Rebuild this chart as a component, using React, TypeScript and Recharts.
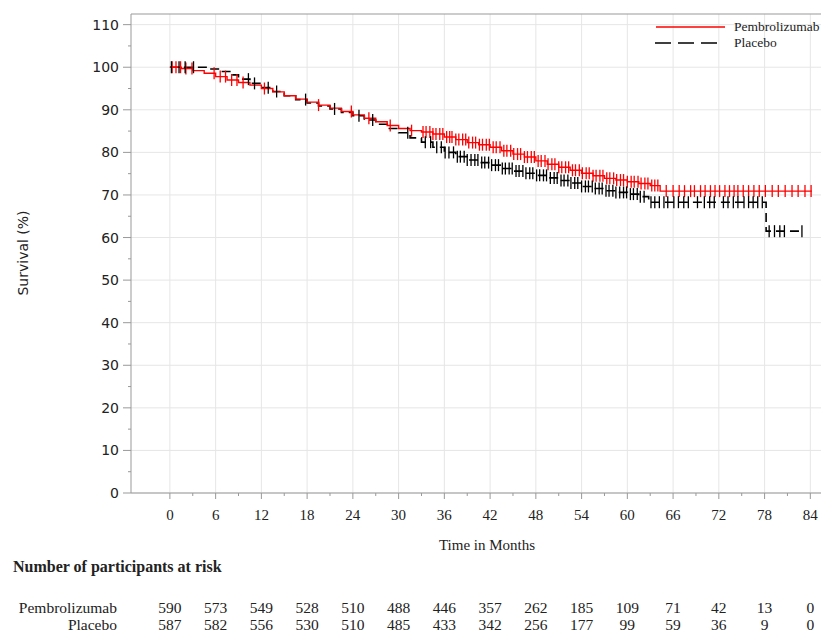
import {
  ComposedChart,
  Line,
  Scatter,
  XAxis,
  YAxis,
  CartesianGrid,
  ReferenceLine,
} from "recharts";

// axis ticks
const monthTicks = [0, 6, 12, 18, 24, 30, 36, 42, 48, 54, 60, 66, 72, 78, 84];
const minorMonthTicks = [3, 9, 15, 21, 27, 33, 39, 45, 51, 57, 63, 69, 75, 81];
const survTicks = [0, 10, 20, 30, 40, 50, 60, 70, 80, 90, 100, 110];
const minorSurvTicks = [5, 15, 25, 35, 45, 55, 65, 75, 85, 95, 105];

// number at risk, one value per month tick
const pembroRisk = [590, 573, 549, 528, 510, 488, 446, 357, 262, 185, 109, 71, 42, 13, 0];
const placeboRisk = [587, 582, 556, 530, 510, 485, 433, 342, 256, 177, 99, 59, 36, 9, 0];

// Kaplan-Meier steps
const pembroTime = [
  0, 1.5, 3, 4.5, 6, 7.5, 9, 10.5, 12, 13.5, 15, 16.5, 18, 19.5, 21, 22.5, 24,
  25.5, 27, 28.5, 30, 31.5, 33, 34.5, 36, 37.5, 39, 40.5, 42, 43.5, 45, 46.5,
  48, 49.5, 51, 52.5, 54, 55.5, 57, 58.5, 60, 61.5, 63, 64.3, 84.2,
];
const pembroSurv = [
  100, 99.7, 99.2, 98.6, 97.8, 97.0, 96.4, 95.8, 95.0, 94.2, 93.3, 92.5, 91.8,
  91.1, 90.4, 89.6, 88.8, 88.0, 87.2, 86.3, 85.6, 85.1, 84.8, 84.3, 83.6, 83.0,
  82.3, 81.8, 81.2, 80.4, 79.6, 78.9, 78.0, 77.2, 76.5, 75.8, 75.1, 74.5, 73.9,
  73.5, 73.1, 72.7, 72.2, 70.9, 70.9,
];
const placeboTime = [
  0, 5, 6.5, 8, 9, 10.5, 12, 13.5, 15, 16.5, 18, 19.5, 21, 22.5, 24, 25.5, 27,
  28.5, 30, 31.5, 33, 34.5, 36, 37.5, 39, 40.5, 42, 43.5, 45, 46.5, 48, 49.5,
  51, 52.5, 54, 55.5, 57, 58.5, 60, 61.5, 62.8, 78.2, 82.9,
];
const placeboSurv = [
  100, 99.6, 99.0, 98.2, 97.2, 96.2, 95.2, 94.3, 93.3, 92.4, 91.6, 90.9, 90.2,
  89.4, 88.6, 87.6, 86.6, 85.6, 84.6, 83.4, 82.4, 81.2, 80.0, 79.0, 78.2, 77.6,
  77.0, 76.2, 75.6, 75.1, 74.6, 74.0, 73.4, 72.8, 72.0, 71.5, 71.0, 70.6, 70.2,
  69.6, 68.3, 61.5, 61.5,
];

// censoring times (months)
const pembroCensor = [
  0.3, 0.8, 1.4, 2.1, 2.9, 5.8, 6.6, 7.3, 8.1, 8.8, 9.6, 12.4, 19.5, 23.8, 26.1,
  28.9, 31.7, 33.2, 33.6, 34.1, 34.5, 34.9, 35.4, 35.8, 36.3, 36.7, 37.0, 37.5,
  37.9, 38.4, 38.8, 39.2, 39.7, 40.1, 40.6, 41.0, 41.5, 41.9, 42.4, 42.8, 43.3,
  43.8, 44.2, 44.7, 45.1, 45.6, 46.0, 46.5, 46.9, 47.4, 47.8, 48.3, 48.7, 49.2,
  49.6, 50.1, 50.5, 51.0, 51.4, 51.9, 52.3, 52.8, 53.2, 53.7, 54.1, 54.6, 55.0,
  55.5, 55.9, 56.4, 56.8, 57.3, 57.7, 58.2, 58.6, 59.1, 59.5, 60.0, 60.5, 60.9,
  61.4, 61.8, 62.3, 62.7, 63.2, 63.6, 64.0, 65.1, 66.0, 66.8, 67.5, 68.3, 68.8,
  69.6, 70.2, 70.9, 71.5, 72.1, 72.8, 73.4, 74.0, 74.5, 75.2, 75.9, 76.6, 77.3,
  78.1, 79.0, 79.8, 80.7, 81.6, 82.4, 83.3, 84.1,
];
const placeboCensor = [
  0.2, 1.2, 2.0, 3.1, 10.3, 11.1, 12.9, 14.0, 17.8, 21.6, 24.8, 26.6, 31.2, 33.5,
  34.2, 35.0, 35.6, 36.1, 36.6, 37.2, 37.7, 38.1, 38.6, 39.0, 39.5, 40.0, 40.4,
  40.9, 41.3, 41.8, 42.2, 42.7, 43.1, 43.6, 44.0, 44.5, 44.9, 45.4, 45.8, 46.3,
  46.7, 47.2, 47.6, 48.1, 48.5, 49.0, 49.4, 49.9, 50.4, 50.8, 51.3, 51.7, 52.2,
  52.6, 53.1, 53.5, 54.0, 54.5, 54.9, 55.4, 55.8, 56.3, 56.7, 57.2, 57.6, 58.1,
  58.5, 59.0, 59.5, 59.9, 60.4, 60.8, 61.3, 61.7, 62.2, 63.1, 63.6, 64.2, 64.8,
  65.3, 66.1, 66.7, 67.4, 68.0, 69.2, 70.1, 70.8, 71.4, 72.6, 73.2, 73.9, 74.5,
  75.3, 75.9, 76.5, 77.1, 77.7, 78.6, 79.3, 80.0, 80.6, 82.9,
];

const SERIF = '"Liberation Serif", "Times New Roman", serif';
const SANS = '"DejaVu Sans", Verdana, sans-serif';

const toSteps = (times: number[], surv: number[]) =>
  times.map((t, i) => ({ t, s: surv[i] }));

// survival value of the step function at time t
const stepAt = (times: number[], surv: number[], t: number) => {
  let s = surv[0];
  for (let i = 0; i < times.length; i++) if (times[i] <= t) s = surv[i];
  return s;
};

const pembroData = toSteps(pembroTime, pembroSurv);
const placeboData = toSteps(placeboTime, placeboSurv);
const pembroCensorData = pembroCensor.map((t) => ({ t, s: stepAt(pembroTime, pembroSurv, t) }));
const placeboCensorData = placeboCensor.map((t) => ({ t, s: stepAt(placeboTime, placeboSurv, t) }));

const allMonthTicks = [...monthTicks, ...minorMonthTicks].sort((a, b) => a - b);
const allSurvTicks = [...survTicks, ...minorSurvTicks].sort((a, b) => a - b);

const XTick = (props: any) => {
  const { x, y, payload } = props;
  const i = monthTicks.indexOf(payload.value);
  const major = i >= 0;
  return (
    <g>
      <line x1={x} x2={x} y1={y} y2={y + (major ? 6 : 3)} stroke="#999" />
      {major && (
        <g fontFamily={SERIF} fill="#222" textAnchor="middle">
          <text x={x} y={y + 27} fontSize={15}>{payload.value}</text>
          <text x={x} y={y + 120} fontSize={15.5}>{pembroRisk[i]}</text>
          <text x={x} y={y + 137} fontSize={15.5}>{placeboRisk[i]}</text>
        </g>
      )}
    </g>
  );
};

const YTick = (props: any) => {
  const { x, y, payload } = props;
  const major = payload.value % 10 === 0;
  return (
    <g>
      <line x1={x - (major ? 8 : 3)} x2={x} y1={y} y2={y} stroke="#999" />
      {major && (
        <text x={x - 12} y={y} dy="0.36em" textAnchor="end" fontFamily={SANS} fontSize={14} fill="#222">
          {payload.value}
        </text>
      )}
    </g>
  );
};

// vertical tick for each censored participant
const censorMark = (color: string) => (props: any) => (
  <line x1={props.cx} x2={props.cx} y1={props.cy - 6} y2={props.cy + 6} stroke={color} strokeWidth={1.3} />
);

const abs = (left: number, top: number, extra: any = {}) => ({
  position: "absolute" as const,
  left,
  top,
  whiteSpace: "nowrap" as const,
  ...extra,
});

export default function App() {
  return (
    <div style={{ position: "absolute", left: 0, top: 0, width: 821, height: 633, background: "#fff", overflow: "hidden", fontFamily: SERIF, color: "#222" }}>
      <ComposedChart width={821} height={633} margin={{ top: 14, right: 0, bottom: 0, left: 0 }}>
        <CartesianGrid stroke="#e6e6e6" verticalValues={monthTicks} horizontalValues={survTicks} />
        <XAxis
          dataKey="t"
          type="number"
          domain={[-5.1, 85.4]}
          allowDataOverflow
          ticks={allMonthTicks}
          interval={0}
          height={140}
          tickSize={0}
          tickMargin={0}
          tickLine={false}
          tick={<XTick />}
          stroke="#999"
        />
        <YAxis
          type="number"
          domain={[0, 112.5]}
          allowDataOverflow
          ticks={allSurvTicks}
          interval={0}
          width={131}
          tickSize={0}
          tickMargin={0}
          tickLine={false}
          tick={<YTick />}
          stroke="#999"
        />
        <ReferenceLine y={112.5} stroke="#999" />
        <Line data={placeboData} dataKey="s" type="stepAfter" stroke="#000" strokeWidth={1.6} strokeDasharray="9 5" dot={false} activeDot={false} isAnimationActive={false} />
        <Line data={pembroData} dataKey="s" type="stepAfter" stroke="#ff0000" strokeWidth={1.4} dot={false} activeDot={false} isAnimationActive={false} />
        <Scatter data={pembroCensorData} dataKey="s" shape={censorMark("#ff0000")} isAnimationActive={false} />
        <Scatter data={placeboCensorData} dataKey="s" shape={censorMark("#000")} isAnimationActive={false} />
      </ComposedChart>

      {/* legend */}
      <svg style={abs(650, 20)} width={80} height={32}>
        <line x1={6} x2={75} y1={7} y2={7} stroke="#ff0000" strokeWidth={1.5} />
        <line x1={5} x2={72} y1={23} y2={23} stroke="#000" strokeWidth={1.5} strokeDasharray="16 7" />
      </svg>
      <div style={abs(734, 18, { fontSize: 13.5, lineHeight: "18px" })}>Pembrolizumab</div>
      <div style={abs(734, 34, { fontSize: 13.5, lineHeight: "18px" })}>Placebo</div>

      {/* axis titles */}
      <div style={abs(23, 253, { fontFamily: SANS, fontSize: 14, transform: "translate(-50%, -50%) rotate(-90deg)" })}>
        Survival (%)
      </div>
      <div style={abs(487, 545, { fontSize: 15, transform: "translate(-50%, -50%)" })}>Time in Months</div>

      {/* risk table labels */}
      <div style={abs(13, 557, { fontSize: 16, fontWeight: "bold", lineHeight: "20px" })}>
        Number of participants at risk
      </div>
      <div style={abs(0, 598, { width: 117, textAlign: "right", fontSize: 15.5, lineHeight: "20px" })}>Pembrolizumab</div>
      <div style={abs(0, 615, { width: 117, textAlign: "right", fontSize: 15.5, lineHeight: "20px" })}>Placebo</div>
    </div>
  );
}
